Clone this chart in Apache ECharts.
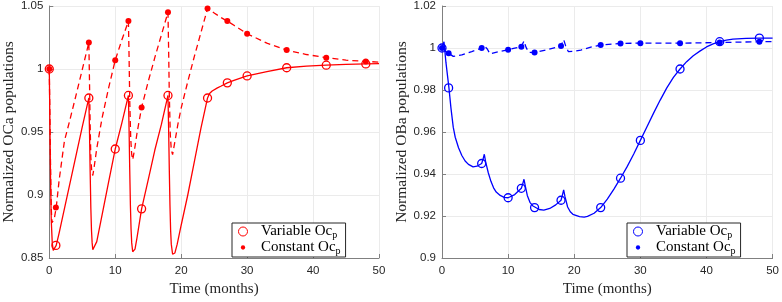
<!DOCTYPE html>
<html>
<head>
<meta charset="utf-8">
<script src="https://cdn.jsdelivr.net/npm/echarts@6/dist/echarts.min.js"></script>
<style>
  html, body { margin: 0; padding: 0; background: #fff; }
  #chart { width: 782px; height: 302px; }
</style>
</head>
<body>
<div id="chart"></div>
<script>
// x ticks (months) and y ticks for both panels
const xTicks = [0, 10, 20, 30, 40, 50];
const ocaTicks = [0.85, 0.9, 0.95, 1, 1.05];
const obaTicks = [0.9, 0.92, 0.94, 0.96, 0.98, 1, 1.02];

// times where markers sit
const markerTimes = [0, 1, 6, 10, 12, 14, 18, 24, 27, 30, 36, 42, 48];

// left panel, OCa
const ocaVariableMarks = [1.0, 0.86, 0.977, 0.9365, 0.979, 0.889, 0.979, 0.977, 0.989, 0.9945, 1.001, 1.003, 1.004];
const ocaConstantMarks = [1.0, 0.890, 1.021, 1.007, 1.038, 0.9695, 1.045, 1.048, 1.038, 1.028, 1.015, 1.009, 1.006];

const ocaVariable = [
  [0, 1.0], [0.1, 0.955], [0.2, 0.91], [0.3, 0.88], [0.45, 0.862], [0.6, 0.856], [0.75, 0.855], [0.9, 0.857],
  [1.05, 0.86], [1.5, 0.87], [2, 0.882], [3, 0.906], [4, 0.93], [5, 0.954], [6, 0.977],
  [6.1, 0.95], [6.2, 0.918], [6.3, 0.89], [6.4, 0.872], [6.5, 0.862], [6.6, 0.8565], [6.75, 0.8555], [6.9, 0.857],
  [7.2, 0.863], [8, 0.884], [9, 0.9105], [10, 0.9365], [11, 0.957], [12, 0.979],
  [12.1, 0.952], [12.2, 0.92], [12.3, 0.892], [12.4, 0.873], [12.5, 0.862], [12.65, 0.855], [12.8, 0.854], [13, 0.857],
  [13.3, 0.866], [14, 0.889], [15, 0.912], [16, 0.9355], [17, 0.956], [18, 0.979],
  [18.1, 0.952], [18.2, 0.92], [18.3, 0.892], [18.4, 0.872], [18.5, 0.861], [18.7, 0.853], [18.85, 0.852], [19.05, 0.854],
  [19.4, 0.861], [20, 0.876], [21, 0.9], [22, 0.9265], [23, 0.953], [24, 0.977],
  [24.3, 0.9805], [24.7, 0.9825], [25.5, 0.985], [26, 0.9863], [27, 0.989], [28, 0.991], [30, 0.9945],
  [33, 0.998], [36, 1.001], [39, 1.0023], [42, 1.003], [45, 1.0036], [48, 1.004], [50, 1.0042]
];

const ocaConstant = [
  [0, 1.0], [0.1, 0.96], [0.2, 0.92], [0.3, 0.89], [0.4, 0.878], [0.55, 0.8775], [0.75, 0.881], [1.05, 0.89],
  [1.5, 0.912], [2.3, 0.943], [3, 0.957], [4, 0.978], [5, 0.9995], [6, 1.021],
  [6.1, 0.99], [6.2, 0.955], [6.3, 0.93], [6.45, 0.918], [6.6, 0.9155], [6.8, 0.922], [7.2, 0.937],
  [8, 0.961], [9, 0.985], [10, 1.007], [11, 1.023], [12, 1.038],
  [12.1, 1.01], [12.2, 0.975], [12.35, 0.945], [12.5, 0.932], [12.65, 0.928], [12.9, 0.935], [13.3, 0.949],
  [14, 0.9695], [15, 0.99], [16, 1.009], [17, 1.027], [18, 1.045],
  [18.1, 1.015], [18.2, 0.98], [18.35, 0.948], [18.5, 0.936], [18.7, 0.932], [19, 0.941], [19.5, 0.956],
  [20, 0.969], [21, 0.99], [22, 1.01], [23, 1.029], [24, 1.048],
  [25, 1.0445], [26, 1.041], [27, 1.038], [28, 1.0347], [30, 1.028], [33, 1.0205], [36, 1.015],
  [39, 1.0115], [42, 1.009], [45, 1.007], [48, 1.006], [50, 1.0055]
];

// right panel, OBa
const obaVariableMarks = [1.0, 0.981, 0.945, 0.9287, 0.9332, 0.924, 0.9275, 0.924, 0.938, 0.956, 0.99, 1.003, 1.0047];
const obaConstantMarks = [1.0, 0.9975, 1.0, 0.9992, 1.0006, 0.9978, 1.0009, 1.0014, 1.0022, 1.0023, 1.0023, 1.0026, 1.003];

const obaVariable = [
  [0, 1.0], [0.3, 1.003], [0.6, 0.993], [1.05, 0.981], [1.35, 0.9715], [1.7, 0.9623], [2, 0.9575], [2.5, 0.9525],
  [3, 0.9488], [3.5, 0.9462], [4, 0.9446], [4.7, 0.9434], [5.3, 0.9437], [6, 0.945], [6.2, 0.947], [6.4, 0.9494],
  [6.6, 0.9458], [7, 0.9406], [7.4, 0.9365], [7.8, 0.9334], [8.2, 0.9314], [8.8, 0.9298], [9.4, 0.9289], [10, 0.9287],
  [11, 0.9302], [12, 0.9332], [12.2, 0.9352], [12.4, 0.9375], [12.6, 0.9342], [12.9, 0.9298], [13.3, 0.9265],
  [13.7, 0.9249], [14, 0.924], [14.7, 0.9231], [15.4, 0.9228], [16.3, 0.9236], [17.2, 0.9253], [18, 0.9275],
  [18.2, 0.9298], [18.4, 0.9324], [18.6, 0.9292], [19, 0.9243], [19.4, 0.922], [19.8, 0.9208], [20.8, 0.9197],
  [21.5, 0.9195], [22, 0.9198], [23, 0.9213], [24, 0.924], [25, 0.928], [26, 0.9328], [27, 0.938], [28, 0.9435],
  [29, 0.9495], [30, 0.956], [31, 0.9625], [32, 0.969], [33, 0.9752], [34, 0.981], [35, 0.986], [36, 0.99],
  [37, 0.9935], [38, 0.9963], [39, 0.9985], [40, 1.0005], [41, 1.002], [42, 1.003], [43, 1.0037], [44, 1.0042],
  [46, 1.0046], [48, 1.0047], [50, 1.0047]
];

const obaConstant = [
  [0, 1.0], [0.2, 1.0003], [0.5, 0.9985], [1, 0.9975], [1.7, 0.996], [3, 0.9967], [4.5, 0.9983], [6, 1.0],
  [6.3, 1.0013], [6.55, 1.0022], [6.85, 0.9995], [7.25, 0.9972], [8.5, 0.9982], [10, 0.9992], [11, 0.9999],
  [12, 1.0006], [12.2, 1.002], [12.4, 1.0034], [12.7, 1.0004], [13.1, 0.998], [14, 0.9978], [16, 0.9993],
  [18, 1.0009], [18.2, 1.0025], [18.4, 1.004], [18.7, 1.001], [19.1, 0.9983], [20, 0.9985], [21, 0.999],
  [22.5, 1.0004], [24, 1.0014], [27, 1.0022], [30, 1.0023], [36, 1.0023], [42, 1.0026], [48, 1.003], [50, 1.003]
];

const RED = '#ff0000';
const BLUE = '#0000ff';
const SERIF = '"Liberation Serif", "DejaVu Serif", serif';
const SANS = '"Liberation Sans", Arial, sans-serif';
// small dot for the legend (invisible corners keep it small in the icon box)
const SMALL_DOT = 'path://M0 0M10 10M5 2.6A2.4 2.4 0 1 1 5 7.4A2.4 2.4 0 1 1 5 2.6Z';
const RING = 'path://M0.5 5A4.5 4.5 0 1 1 9.5 5A4.5 4.5 0 1 1 0.5 5Z';

const zip = (ts, vs) => ts.map((t, i) => [t, vs[i]]);

const xAxisFor = (idx) => ({
  type: 'value', gridIndex: idx,
  min: xTicks[0], max: xTicks[xTicks.length - 1], interval: xTicks[1] - xTicks[0],
  name: 'Time (months)', nameLocation: 'middle', nameGap: 24,
  nameTextStyle: { fontFamily: SERIF, fontSize: 15, color: '#262626' },
  axisLine: { lineStyle: { color: '#808080', width: 1 } },
  axisTick: { inside: true, length: 4, lineStyle: { color: '#808080' } },
  axisLabel: { fontFamily: SANS, fontSize: 11.5, color: '#262626', margin: 7 },
  splitLine: { show: true, lineStyle: { color: '#ebebeb' } }
});

const yAxisFor = (idx, ticks, label) => ({
  type: 'value', gridIndex: idx,
  min: ticks[0], max: ticks[ticks.length - 1],
  interval: Math.round((ticks[1] - ticks[0]) * 1000) / 1000,
  name: label, nameLocation: 'middle', nameGap: 32,
  nameTextStyle: { fontFamily: SERIF, fontSize: 15.5, color: '#262626' },
  axisLine: { show: true, lineStyle: { color: '#808080', width: 1 } },
  axisTick: { show: true, inside: true, length: 4, lineStyle: { color: '#808080' } },
  axisLabel: { fontFamily: SANS, fontSize: 11.5, color: '#262626', margin: 6 },
  splitLine: { show: true, lineStyle: { color: '#ebebeb' } }
});

const curve = (data, color, dashed, idx) => ({
  type: 'line', xAxisIndex: idx, yAxisIndex: idx, data,
  symbol: 'none', silent: true, z: 3,
  lineStyle: { color, width: 1.3, type: dashed ? [6, 4] : 'solid' }
});

const hollow = (name, data, color, idx) => ({
  type: 'scatter', name, xAxisIndex: idx, yAxisIndex: idx, data,
  symbol: 'circle', symbolSize: 8, z: 4,
  itemStyle: { color: 'rgba(255,255,255,0)', borderColor: color, borderWidth: 1.3, opacity: 1 }
});

const dots = (name, data, color, idx) => ({
  type: 'scatter', name, xAxisIndex: idx, yAxisIndex: idx, data,
  symbol: 'circle', symbolSize: 6, z: 4,
  itemStyle: { color, opacity: 1 }
});

const legendFor = (left, names) => ({
  orient: 'vertical', left, top: 223,
  data: [
    { name: names[0], icon: RING, itemStyle: { borderWidth: 1 } },
    { name: names[1], icon: SMALL_DOT }
  ],
  itemWidth: 26, itemHeight: 9, itemGap: 0,
  padding: [1, 5, 1, 6],
  borderColor: '#262626', borderWidth: 1, backgroundColor: '#fff',
  selectedMode: false,
  formatter: (name) => name.trim().replace('Oc_p', 'Oc{p|p}'),
  textStyle: {
    fontFamily: SERIF, fontSize: 15, color: '#000',
    rich: { p: { fontFamily: SERIF, fontSize: 10, padding: [7, 0, 0, 0] } }
  }
});

const chart = echarts.init(document.getElementById('chart'));
chart.setOption({
  animation: false,
  backgroundColor: '#fff',
  grid: [
    { left: 48, top: 6, width: 331, height: 257 },
    { left: 442, top: 6, width: 331, height: 257 }
  ],
  xAxis: [xAxisFor(0), xAxisFor(1)],
  yAxis: [
    yAxisFor(0, ocaTicks, 'Normalized OCa populations'),
    yAxisFor(1, obaTicks, 'Normalized OBa populations')
  ],
  legend: [
    legendFor(232, ['Variable Oc_p', 'Constant Oc_p']),
    legendFor(627, ['Variable Oc_p ', 'Constant Oc_p '])
  ],
  series: [
    curve(ocaVariable, RED, false, 0),
    curve(ocaConstant, RED, true, 0),
    hollow('Variable Oc_p', zip(markerTimes, ocaVariableMarks), RED, 0),
    dots('Constant Oc_p', zip(markerTimes, ocaConstantMarks), RED, 0),
    curve(obaVariable, BLUE, false, 1),
    curve(obaConstant, BLUE, true, 1),
    hollow('Variable Oc_p ', zip(markerTimes, obaVariableMarks), BLUE, 1),
    dots('Constant Oc_p ', zip(markerTimes, obaConstantMarks), BLUE, 1)
  ]
});
</script>
</body>
</html>
